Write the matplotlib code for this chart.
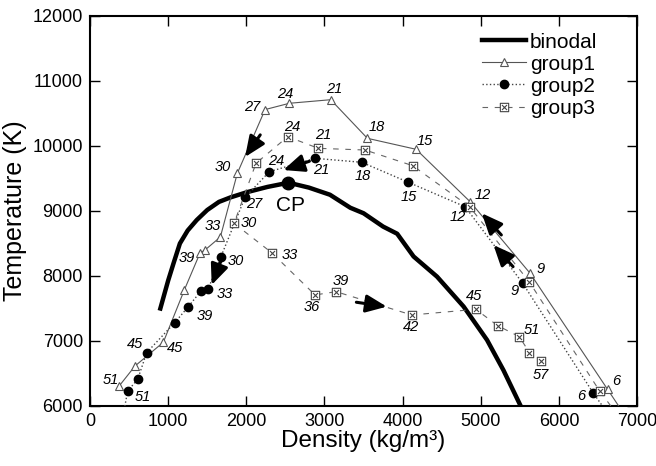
import matplotlib
matplotlib.use('Agg')
import matplotlib.pyplot as plt
from matplotlib.path import Path
import numpy as np

plt.rcParams['font.family'] = ['Liberation Sans', 'DejaVu Sans']

# ---------------- data ----------------
# binodal curve
bin_rho = [900, 1000, 1070, 1150, 1250, 1365, 1500, 1650, 1800, 2010, 2270, 2540,
           2800, 3070, 3330, 3500, 3750, 3930, 4140, 4440, 4780, 5080, 5290, 5510]
bin_T = [7500, 7930, 8200, 8500, 8700, 8860, 9015, 9140, 9210, 9290, 9370, 9435,
         9360, 9250, 9050, 8965, 8760, 8650, 8300, 7990, 7530, 7015, 6550, 6000]
cp_rho, cp_T = 2538, 9435

# group1 (steps 3 .. 51)
g1_step = [3, 6, 9, 12, 15, 18, 21, 24, 27, 30, 33, 36, 39, 42, 45, 48, 51]
g1_rho = [6930, 6622, 5631, 4863, 4172, 3549, 3080, 2551, 2240, 1885, 1668, 1472, 1408, 1207, 938, 576, 375]
g1_T = [5700, 6256, 8041, 9143, 9949, 10118, 10712, 10657, 10560, 9580, 8600, 8400, 8354, 7785, 6980, 6615, 6310]

# group2 (steps 3 .. 54)
g2_step = [3, 6, 9, 12, 15, 18, 21, 24, 27, 30, 33, 36, 39, 42, 45, 48, 51, 54]
g2_rho = [6735, 6441, 5537, 4799, 4074, 3477, 2880, 2295, 1984, 1672, 1514, 1416, 1258, 1084, 725, 610, 482, 400]
g2_T = [5700, 6195, 7887, 9066, 9441, 9749, 9810, 9605, 9210, 8287, 7805, 7764, 7528, 7282, 6820, 6410, 6231, 5700]

# group3 (steps 3 .. 57)
g3_step = [3, 6, 9, 12, 15, 18, 21, 24, 27, 30, 33, 36, 39, 42, 45, 48, 51, 54, 57]
g3_rho = [6850, 6520, 5619, 4856, 4129, 3520, 2922, 2530, 2124, 1843, 2325, 2880, 3148, 4116, 4936, 5218, 5494, 5622, 5768]
g3_T = [5700, 6231, 7912, 9066, 9697, 9938, 9964, 10143, 9734, 8810, 8358, 7708, 7759, 7400, 7487, 7235, 7066, 6820, 6692]

# which steps carry a label, and label offset in pixels (dx, dy)
g1_lab = {51: (-9, 6), 45: (12, -6), 39: (-13, -5), 33: (-8, 11), 30: (-15, 6), 27: (-13, 3),
          24: (-4, 9), 21: (3, 11), 18: (9, 11), 15: (9, 8), 12: (13, 7), 9: (10, 4), 6: (9, 8)}
g2_lab = {51: (15, -6), 45: (-12, 9), 39: (16, -9), 33: (16, -5), 30: (15, -4), 27: (9, -7),
          24: (7, 11), 21: (6, -12), 18: (1, -14), 15: (0, -15), 12: (-7, -10), 9: (-8, -8), 6: (-12, -3)}
g3_lab = {30: (15, 0), 24: (4, 10), 21: (5, 13), 33: (18, -2), 36: (-3, -12), 39: (5, 11),
          42: (-1, -12), 45: (-2, 13), 51: (12, 7), 57: (0, -14)}

# direction arrows: (tail rho, tail T, head rho, head T)
arrows = [(2178, 10171, 1984, 9830),
          (2807, 9765, 2474, 9630),
          (1696, 8295, 1557, 7862),
          (3408, 7596, 3797, 7528),
          (5263, 8631, 5013, 8965),
          (5413, 8143, 5162, 8477)]

# square with a cross inside, for group3
sqx = Path([(-1, -1), (1, -1), (1, 1), (-1, 1), (-1, -1),
            (-0.6, -0.6), (0.6, 0.6), (-0.6, 0.6), (0.6, -0.6)],
           [Path.MOVETO, Path.LINETO, Path.LINETO, Path.LINETO, Path.CLOSEPOLY,
            Path.MOVETO, Path.LINETO, Path.MOVETO, Path.LINETO])

fig = plt.figure(figsize=(6.56, 4.66), dpi=100)
ax = fig.add_axes([0.1372, 0.1288, 0.834, 0.8369])

ax.plot(bin_rho, bin_T, 'k-', lw=3.2, label='binodal', zorder=3)
ax.plot([cp_rho], [cp_T], 'ko', ms=9, zorder=4)
ax.text(2560, 9090, 'CP', fontsize=15, ha='center', va='center')

ax.plot(g1_rho, g1_T, '-', color='#555555', lw=0.8, marker='^', ms=6, mfc='white',
        mec='#555555', mew=0.8, label='group1', zorder=5)
ax.plot(g2_rho, g2_T, ':', color='#444444', lw=1.0, marker='o', ms=6, mfc='k',
        mec='k', label='group2', zorder=5)
ax.plot(g3_rho, g3_T, '--', color='#666666', lw=0.8, dashes=(5, 6), marker=sqx, ms=6,
        mfc='white', mec='#444444', mew=0.8, label='group3', zorder=5)

for steps, xs, ys, lab in [(g1_step, g1_rho, g1_T, g1_lab),
                           (g2_step, g2_rho, g2_T, g2_lab),
                           (g3_step, g3_rho, g3_T, g3_lab)]:
    for s, xv, yv in zip(steps, xs, ys):
        if s in lab:
            ax.annotate(str(s), (xv, yv), xytext=lab[s], textcoords='offset pixels',
                        ha='center', va='center', fontsize=10.5, style='italic', zorder=6)

for x0, y0, x1, y1 in arrows:
    ax.annotate('', xy=(x1, y1), xytext=(x0, y0),
                arrowprops=dict(arrowstyle='-|>,head_length=1.05,head_width=0.45',
                                mutation_scale=12, color='k', lw=2.2,
                                shrinkA=0, shrinkB=0), zorder=7)

ax.set_xlim(0, 7000)
ax.set_ylim(6000, 12000)
ax.set_xticks(np.arange(0, 7001, 1000))
ax.set_yticks(np.arange(6000, 12001, 1000))
ax.tick_params(direction='in', length=7, width=1, top=True, right=True, labelsize=13, pad=5)
for sp in ax.spines.values():
    sp.set_linewidth(1.5)

ax.set_xlabel('Density (kg/m³)', fontsize=17.5, labelpad=0)
ax.set_ylabel('Temperature (K)', fontsize=18, labelpad=4)

ax.legend(loc='upper left', bbox_to_anchor=(0.69, 0.995), frameon=False, fontsize=15,
          handlelength=2.1, handletextpad=0.2, labelspacing=0.15, borderpad=0.2)

fig.savefig('out.png', dpi=100)
